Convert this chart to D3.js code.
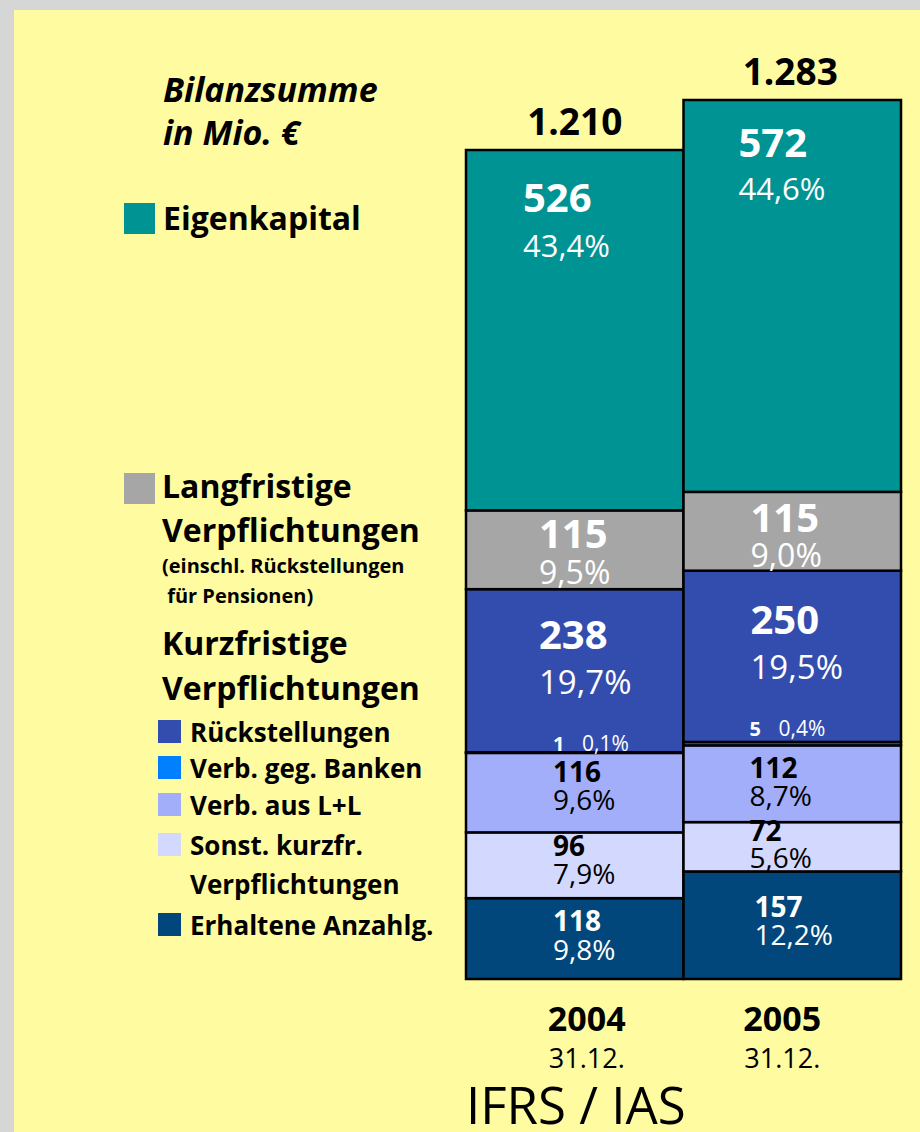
<!DOCTYPE html>
<html><head><meta charset="utf-8">
<script src="https://cdn.jsdelivr.net/npm/d3@7"></script>
<style>
html,body{margin:0;padding:0;background:#D6D6D6;}
svg{display:block;}
text{font-family:"Open Sans","Noto Sans",sans-serif;}
</style></head>
<body>
<script>
// ---- data ----
const years = ["2004", "2005"];
const dates = ["31.12.", "31.12."];
const totals = [1210, 1283];
const totalLabels = ["1.210", "1.283"];
const categories = ["Erhaltene Anzahlg.", "Sonst. kurzfr. Verpflichtungen", "Verb. aus L+L", "Verb. geg. Banken", "Rückstellungen", "Langfristige Verpflichtungen", "Eigenkapital"];
const values2004 = [118, 96, 116, 1, 238, 115, 526];
const values2005 = [157, 72, 112, 5, 250, 115, 572];
const pct2004 = ["9,8%", "7,9%", "9,6%", "0,1%", "19,7%", "9,5%", "43,4%"];
const pct2005 = ["12,2%", "5,6%", "8,7%", "0,4%", "19,5%", "9,0%", "44,6%"];
const colors = ["#02477B", "#D3D8FE", "#A2AEFA", "#0080FF", "#334DAF", "#A6A6A6", "#009393"];

const W = 920, H = 1132;
const svg = d3.select("body").append("svg").attr("width", W).attr("height", H);
svg.append("rect").attr("width", W).attr("height", H).attr("fill", "#D6D6D6");
svg.append("rect").attr("x", 14).attr("y", 10).attr("width", W - 14).attr("height", H - 10).attr("fill", "#FFFBA1");

const x = d3.scaleBand().domain(years).range([466, 901]).padding(0);
const y = d3.scaleLinear().domain([0, 1283]).range([979, 100]);

const series = [values2004, values2005];
const pcts = [pct2004, pct2005];

// label layout per bar: [dx, number offset from segment top, pct offset, number size, pct size]
const layout = [
  [[87, 33, 62, 28, 28], [87, 24, 52, 28, 28], [87, 29, 57, 28, 28], [87, -1, -1, 20, 21], [73, 60, 105, 40, 33], [73, 38, 74, 40, 32], [57, 62, 107, 40, 31]],
  [[71, 46, 74, 28, 28], [66, 19, 46, 28, 28], [66, 33, 61, 28, 28], [66, -6, -6, 20, 21], [67, 63, 108, 40, 33], [67, 40, 75, 40, 32], [55, 57, 100, 40, 31]]
];
const textColors = ["#fff", "#000", "#000", "#fff", "#fff", "#fff", "#fff"];

years.forEach((yr, bi) => {
  const vals = series[bi];
  const stack = d3.cumsum(vals);
  const g = svg.append("g");
  vals.forEach((v, i) => {
    const y0 = stack[i] - v, y1 = stack[i];
    g.append("rect")
      .attr("x", x(yr)).attr("width", x.bandwidth())
      .attr("y", y(y1)).attr("height", y(y0) - y(y1))
      .attr("fill", colors[i]).attr("stroke", "#000").attr("stroke-width", 2.5);
  });
  vals.forEach((v, i) => {
    const top = y(stack[i]);
    const L = layout[bi][i];
    const pctDx = i === 3 ? 29 : 0;
    g.append("text").attr("x", x(yr) + L[0]).attr("y", top + L[1])
      .attr("font-size", L[3]).attr("font-weight", "bold").attr("fill", textColors[i]).text(v);
    g.append("text").attr("x", x(yr) + L[0] + pctDx).attr("y", top + L[2])
      .attr("font-size", L[4]).attr("fill", textColors[i]).text(pcts[bi][i]);
  });
  // total
  svg.append("text").attr("x", x(yr) + x.bandwidth() / 2 + (bi === 0 ? 0 : -2)).attr("y", y(totals[bi]) - 15)
    .attr("text-anchor", "middle").attr("font-size", 37).attr("font-weight", "bold").attr("fill", "#000").text(totalLabels[bi]);
  // year & date
  svg.append("text").attr("x", x(yr) + x.bandwidth() / 2 + (bi === 0 ? 12 : -10)).attr("y", 1031)
    .attr("text-anchor", "middle").attr("font-size", 34).attr("font-weight", "bold").text(yr);
  svg.append("text").attr("x", x(yr) + x.bandwidth() / 2 + (bi === 0 ? 12 : -10)).attr("y", 1068)
    .attr("text-anchor", "middle").attr("font-size", 27).text(dates[bi]);
});

svg.append("text").attr("x", 466).attr("y", 1124).attr("font-size", 51).text("IFRS / IAS");

// title
svg.append("text").attr("x", 163).attr("y", 102).attr("font-size", 34).attr("font-weight", "bold").attr("font-style", "italic").text("Bilanzsumme");
svg.append("text").attr("x", 163).attr("y", 145).attr("font-size", 34).attr("font-weight", "bold").attr("font-style", "italic").text("in Mio. €");

// legend big entries
function bigSquare(color, yTop) {
  svg.append("rect").attr("x", 124).attr("y", yTop).attr("width", 31).attr("height", 31).attr("fill", color);
}
function txt(xp, yp, size, s, weight) {
  svg.append("text").attr("x", xp).attr("y", yp).attr("font-size", size).attr("font-weight", weight || "bold").attr("fill", "#000").text(s);
}
bigSquare(colors[6], 203);
txt(163, 230, 32, "Eigenkapital");
bigSquare(colors[5], 473);
txt(162, 498, 32, "Langfristige");
txt(162, 542, 32, "Verpflichtungen");
txt(162, 573, 20, "(einschl. Rückstellungen");
txt(162, 603, 20, "\u00a0für Pensionen)");
txt(162, 655, 32, "Kurzfristige");
txt(162, 700, 32, "Verpflichtungen");

// small legend entries
const smallItems = [
  [4, 720, ["Rückstellungen"]],
  [3, 756, ["Verb. geg. Banken"]],
  [2, 793, ["Verb. aus L+L"]],
  [1, 833, ["Sonst. kurzfr.", "Verpflichtungen"]],
  [0, 913, ["Erhaltene Anzahlg."]]
];
smallItems.forEach(([ci, yt, lines]) => {
  svg.append("rect").attr("x", 158).attr("y", yt).attr("width", 23).attr("height", 23).attr("fill", colors[ci]);
  lines.forEach((l, k) => txt(190, yt + 22 + k * 39, 26, l));
});
</script>
</body></html>
